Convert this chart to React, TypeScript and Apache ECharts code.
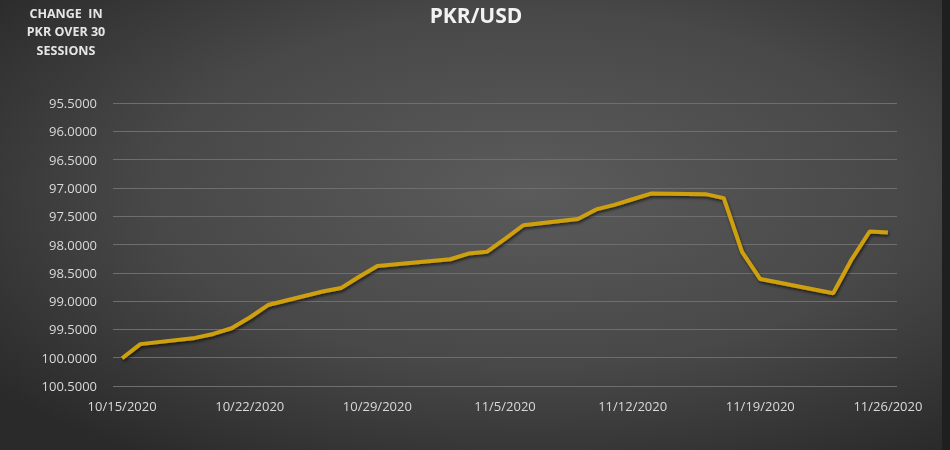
import React, { useEffect, useRef } from "react";
import * as echarts from "echarts";

// Trading sessions (M/D/YYYY) and PKR per USD values
const sessionDates = [
  "10/15/2020", "10/16/2020", "10/19/2020", "10/20/2020", "10/21/2020", "10/22/2020", "10/23/2020",
  "10/26/2020", "10/27/2020", "10/28/2020", "10/29/2020",
  "11/2/2020", "11/3/2020", "11/4/2020", "11/5/2020", "11/6/2020",
  "11/9/2020", "11/10/2020", "11/11/2020", "11/12/2020", "11/13/2020",
  "11/16/2020", "11/17/2020", "11/18/2020", "11/19/2020", "11/20/2020",
  "11/23/2020", "11/24/2020", "11/25/2020", "11/26/2020",
];
const pkrValues = [
  100.01, 99.76, 99.65, 99.58, 99.48, 99.29, 99.07,
  98.83, 98.77, 98.57, 98.38,
  98.26, 98.16, 98.13, 97.9, 97.66,
  97.55, 97.38, 97.3, 97.2, 97.1,
  97.11, 97.18, 98.13, 98.61, 98.67,
  98.86, 98.27, 97.77, 97.79,
];
const axisStart = "10/15/2020";
const axisEnd = "11/26/2020";
const yMin = 95.5;
const yMax = 100.5;
const yStep = 0.5;
const titleText = "PKR/USD";
const noteLines = ["CHANGE  IN", "PKR OVER 30", "SESSIONS"];

function parseDate(s: string): Date {
  const [m, d, y] = s.split("/").map(Number);
  return new Date(y, m - 1, d);
}
function fmt(d: Date): string {
  return `${d.getMonth() + 1}/${d.getDate()}/${d.getFullYear()}`;
}

export default function App() {
  const ref = useRef<HTMLDivElement>(null);
  useEffect(() => {
    if (!ref.current) return;
    const chart = echarts.init(ref.current, undefined, { renderer: "svg" });

    // Daily calendar slots (date axis), sessions placed by date
    const categories: string[] = [];
    const end = parseDate(axisEnd);
    for (let d = parseDate(axisStart); d <= end; d = new Date(d.getFullYear(), d.getMonth(), d.getDate() + 1)) {
      categories.push(fmt(d));
    }
    const lookup: Record<string, number> = {};
    sessionDates.forEach((s, i) => (lookup[s] = pkrValues[i]));
    const seriesData = categories.map((c) => (c in lookup ? lookup[c] : null));

    const labelColor = "#d9d9d9";
    const fam = "'Open Sans', 'DejaVu Sans', sans-serif";
    chart.setOption({
      animation: false,
      backgroundColor: {
        type: "radial",
        x: 0.56,
        y: 0.42,
        r: 0.72,
        colorStops: [
          { offset: 0, color: "#5b5b5b" },
          { offset: 0.55, color: "#484848" },
          { offset: 1, color: "#2a2a2a" },
        ],
      },
      grid: { left: 113, right: 53, top: 103, bottom: 64, containLabel: false },
      graphic: [
        {
          type: "text",
          x: 476,
          y: 4,
          style: {
            text: titleText,
            fill: "#f2f2f2",
            align: "center",
            verticalAlign: "top",
            lineHeight: 22,
            font: `bold 21px ${fam}`,
          },
        },
        ...noteLines.map((t, i) => ({
          type: "text",
          x: 66,
          y: 13 + i * 18.5,
          style: {
            text: t,
            fill: "#e6e6e6",
            align: "center",
            verticalAlign: "middle",
            font: `bold 12.5px ${fam}`,
          },
        })),
        {
          type: "rect",
          x: 942,
          y: 0,
          shape: { width: 8, height: 450 },
          style: { fill: "#1f1f1f" },
        },
      ],
      xAxis: {
        type: "category",
        data: categories,
        boundaryGap: true,
        axisLine: { show: false },
        axisTick: { show: false },
        splitLine: { show: false },
        axisLabel: {
          interval: 6,
          color: labelColor,
          fontSize: 13,
          fontFamily: fam,
          margin: 13,
        },
      },
      yAxis: {
        type: "value",
        inverse: true,
        min: yMin,
        max: yMax,
        interval: yStep,
        axisLine: { show: false },
        axisTick: { show: false },
        splitLine: { show: true, lineStyle: { color: "#6e6e6e", width: 1 } },
        axisLabel: {
          color: labelColor,
          fontSize: 13,
          fontFamily: fam,
          margin: 16,
          formatter: (v: number) => v.toFixed(4),
        },
      },
      series: [
        {
          type: "line",
          data: seriesData,
          connectNulls: true,
          showSymbol: false,
          symbol: "none",
          lineStyle: {
            color: "#cfa010",
            width: 4,
            shadowColor: "rgba(0,0,0,0.6)",
            shadowBlur: 3,
            shadowOffsetX: 1,
            shadowOffsetY: 2,
          },
        },
      ],
    });
    return () => chart.dispose();
  }, []);
  return <div ref={ref} style={{ position: "fixed", left: 0, top: 0, width: 950, height: 450 }} />;
}
